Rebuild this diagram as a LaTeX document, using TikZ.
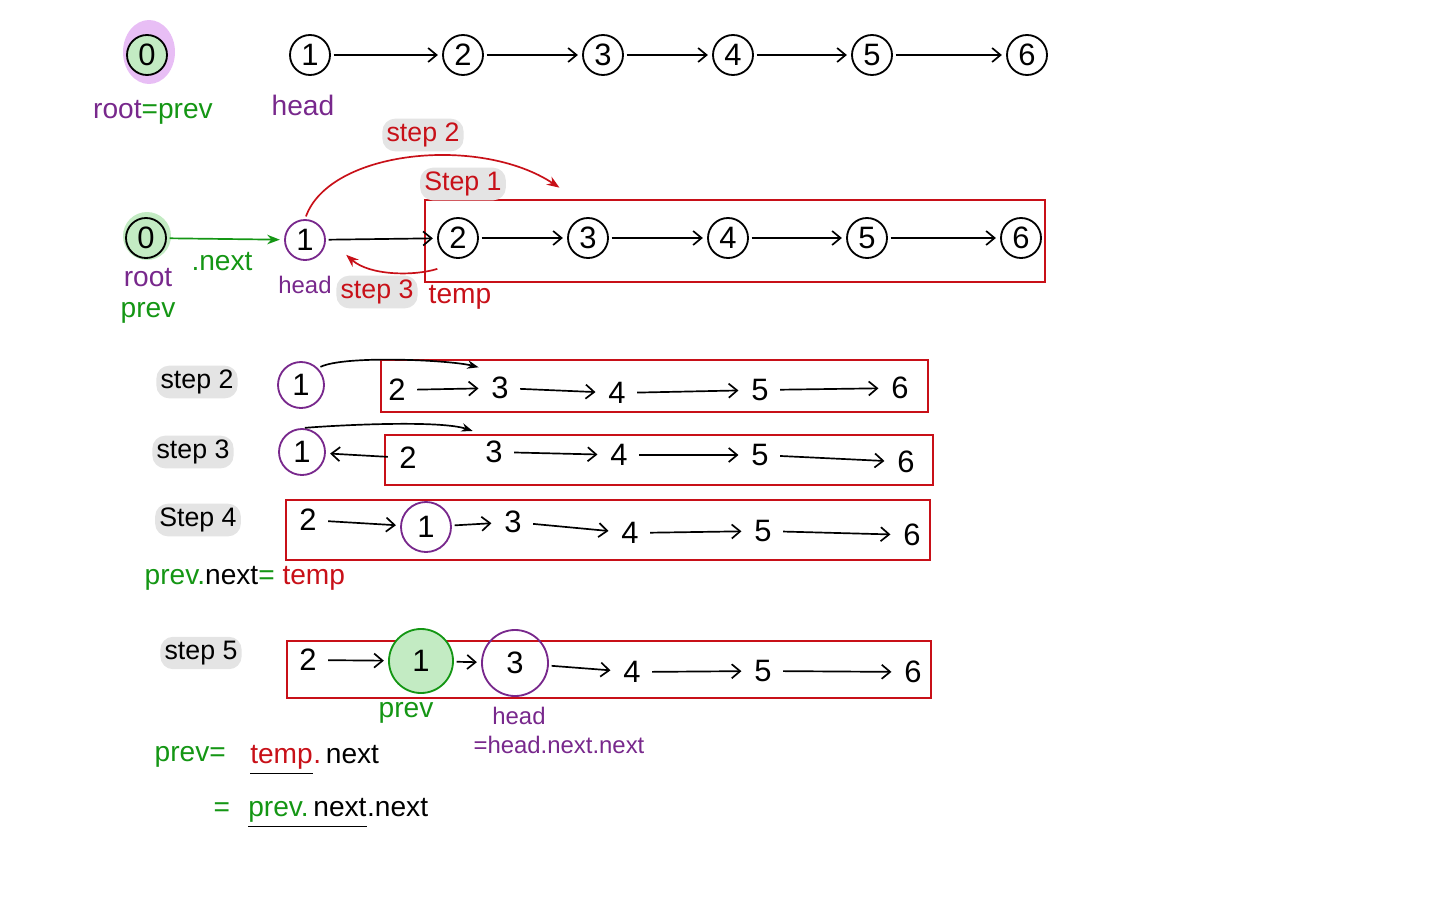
\documentclass[tikz,border=0pt]{standalone}
\usepackage{fontspec}
\setmainfont{Liberation Sans}
\usetikzlibrary{arrows.meta}

\definecolor{myred}{RGB}{200,16,24}
\definecolor{mypurple}{RGB}{120,40,140}
\definecolor{mygreen}{RGB}{20,150,20}
\definecolor{rootfill}{RGB}{195,235,195}
\definecolor{halo}{RGB}{232,190,245}
\definecolor{tagbg}{RGB}{228,228,228}

\tikzset{
  nd/.style={circle,draw,line width=1.3pt,minimum size=1cm,inner sep=0pt,font=\fontsize{22}{24}\selectfont},
  num/.style={inner sep=6pt,font=\fontsize{22}{24}\selectfont},
  lbl/.style={inner sep=1pt,font=\fontsize{20}{22}\selectfont},
  tag/.style={fill=tagbg,rounded corners=9pt,inner sep=3pt,font=\fontsize{19}{21}\selectfont},
  box/.style={draw=myred,line width=1.3pt},
  lnk/.style={->,line width=1.2pt,shorten <=2pt,shorten >=3pt},
}

\begin{document}
\begin{tikzpicture}[x=0.025cm,y=-0.025cm,>={Straight Barb[length=6pt,width=10pt]}]
 \useasboundingbox (0,0) rectangle (1440,901);
 \begin{scope}
  \fill[halo] (149,52) ellipse (26 and 32);
  \node[nd,fill=rootfill] (a0) at (147,55) {0};
  \foreach \i/\x in {1/310,2/463,3/603,4/733,5/872,6/1027}{ \node[nd] (a\i) at (\x,55) {\i}; }
  \foreach \i/\j in {1/2,2/3,3/4,4/5,5/6}{ \draw[lnk] (a\i) -- (a\j); }
  \node[lbl,text=mypurple] (rootA) at (153,112) {root{\color{mygreen}=prev}};
  \node[lbl,text=mypurple] (headA) at (303,105) {head};
 \end{scope}
 \begin{scope}
  \fill[rootfill] (147,236) circle (24);
  \node[nd] (b0) at (146,238) {0};
  \node[nd,draw=mypurple] (b1) at (305,240) {1};
  \foreach \i/\x in {2/458,3/588,4/728,5/867,6/1021}{ \node[nd] (b\i) at (\x,238) {\i}; }
  \draw[box] (425,200) rectangle (1045,282);
  \draw[lnk,mygreen,-{Stealth[length=9pt]}] (b0) -- (b1);
  \foreach \i/\j in {1/2,2/3,3/4,4/5,5/6}{ \draw[lnk] (b\i) -- (b\j); }
  \coordinate (s2end) at (563,190);
  \coordinate (s3beg) at (440,268);
  \coordinate (s3end) at (343,252);
  \draw[lnk,myred,-{Stealth[length=9pt]}] (b1.north) .. controls (330,150) and (480,135) .. (s2end);
  \draw[lnk,myred,-{Stealth[length=9pt]}] (s3beg) .. controls (415,276) and (370,276) .. (s3end);
  \node[tag,text=myred] (t2) at (423,135) {step 2};
  \node[tag,text=myred] (t1) at (463,184) {Step 1};
  \node[tag,text=myred] (t3) at (377,292) {step 3};
  \node[lbl,text=mygreen] (nextB) at (222,262) {.next};
  \node[lbl,text=mypurple] (rootB) at (148,278) {root};
  \node[lbl,text=mygreen] (prevB) at (148,313) {prev};
  \node[lbl,text=mypurple,font=\fontsize{17}{19}\selectfont] (headB) at (305,285) {head};
  \node[lbl,text=myred] (tempB) at (460,297) {temp};
 \end{scope}
 % step 2
 \begin{scope}
  \node[tag] (s2) at (197,382) {step 2};
  \draw[box] (381,360) rectangle (928,412);
  \node[nd,draw=mypurple,minimum size=1.15cm] (c1) at (301,385) {1};
  \foreach \i/\x/\y in {2/397/390,3/500/388,4/617/393,5/760/390,6/900/388}{ \node[num] (c\i) at (\x,\y) {\i}; }
  \foreach \i/\j in {2/3,3/4,4/5,5/6}{ \draw[lnk] (c\i) -- (c\j); }
  \draw[lnk,-{Stealth[length=8pt]}] (c1.north east) .. controls (345,355) and (450,360) .. (c3.north west);
 \end{scope}
 % step 3
 \begin{scope}
  \node[tag] (s3) at (193,452) {step 3};
  \draw[box] (385,435) rectangle (933,485);
  \node[nd,draw=mypurple,minimum size=1.15cm] (d1) at (302,452) {1};
  \foreach \i/\x/\y in {2/408/458,3/494/452,4/619/455,5/760/455,6/906/462}{ \node[num] (d\i) at (\x,\y) {\i}; }
  \foreach \i/\j in {2/1,3/4,4/5,5/6}{ \draw[lnk] (d\i) -- (d\j); }
  \draw[lnk,-{Stealth[length=8pt]}] (d1.north) .. controls (340,425) and (440,420) .. (d3.north west);
 \end{scope}
 % step 4
 \begin{scope}
  \node[tag] (s4) at (198,520) {Step 4};
  \draw[box] (286,500) rectangle (930,560);
  \node[nd,draw=mypurple,minimum size=1.25cm] (e1) at (426,527) {1};
  \foreach \i/\x/\y in {2/308/520,3/513/522,4/630/533,5/763/531,6/912/535}{ \node[num] (e\i) at (\x,\y) {\i}; }
  \foreach \i/\j in {2/1,1/3,3/4,4/5,5/6}{ \draw[lnk] (e\i) -- (e\j); }
  \node[lbl,anchor=west] (eqA) at (143,578) {{\color{mygreen}prev.}next{\color{mygreen}=} {\color{myred}temp}};
 \end{scope}
 % step 5
 \begin{scope}
  \node[tag] (s5) at (201,653) {step 5};
  \draw[box] (287,641) rectangle (931,698);
  \node[nd,draw=mygreen,fill=rootfill,minimum size=1.6cm] (f1) at (421,661) {1};
  \node[nd,draw=mypurple,minimum size=1.65cm] (f3) at (515,663) {3};
  \foreach \i/\x/\y in {2/308/660,4/632/672,5/763/671,6/913/672}{ \node[num] (f\i) at (\x,\y) {\i}; }
  \foreach \i/\j in {2/1,1/3,3/4,4/5,5/6}{ \draw[lnk] (f\i) -- (f\j); }
  \node[lbl,text=mygreen] (prevF) at (406,713) {prev};
  \node[lbl,text=mypurple,font=\fontsize{17}{19}\selectfont] (headF) at (519,716) {head};
  \node[lbl,text=mypurple,font=\fontsize{17}{19}\selectfont] (headEq) at (559,745) {=head.next.next};
  % prev = temp.next = prev.next.next
  \node[lbl,anchor=west,text=mygreen] (eqB) at (153,757) {prev=};
  \node[lbl,anchor=west,text=myred,inner xsep=0pt] (tmpB) at (250,757) {temp};
  \node[lbl,anchor=base west,inner xsep=0pt] (nxB) at (tmpB.base east) {{\color{myred}.}\,next};
  \draw[line width=1.3pt] ([yshift=-2pt]tmpB.south west) -- ([yshift=-2pt]tmpB.south east);
  \node[lbl,anchor=west,text=mygreen] (eqC) at (212,810) {=};
  \node[lbl,anchor=west,inner xsep=0pt] (pnC) at (248,810) {{\color{mygreen}prev.}\,next};
  \node[lbl,anchor=base west,inner xsep=0pt] (nxC) at (pnC.base east) {.next};
  \draw[line width=1.3pt] ([yshift=-2pt]pnC.south west) -- ([yshift=-2pt]pnC.south east);
 \end{scope}
\end{tikzpicture}
\end{document}
